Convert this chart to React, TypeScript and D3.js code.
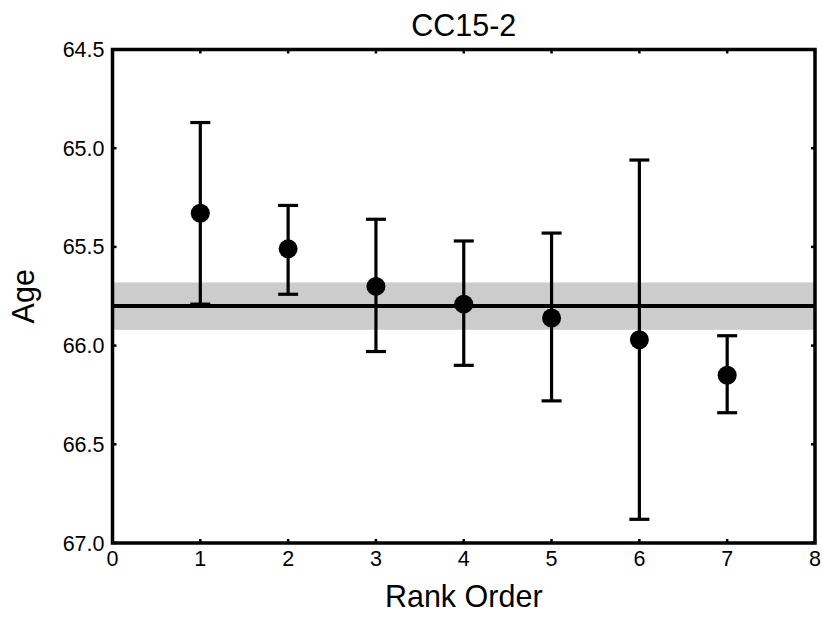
import React from 'react';
import * as d3 from 'd3';

const ranks = [1, 2, 3, 4, 5, 6, 7];
const ages = [65.33, 65.51, 65.7, 65.79, 65.86, 65.97, 66.15];
const upper = [64.87, 65.29, 65.36, 65.47, 65.43, 65.06, 65.95];
const lower = [65.79, 65.74, 66.03, 66.1, 66.28, 66.88, 66.34];
const meanAge = 65.8;
const bandLo = 65.68;
const bandHi = 65.92;
const xTicks = [0, 1, 2, 3, 4, 5, 6, 7, 8];
const yTicks = [64.5, 65.0, 65.5, 66.0, 66.5, 67.0];

const W = 822;
const H = 620;
const M = { left: 112.5, right: 7, top: 49.5, bottom: 77 };
const FONT = '"Liberation Sans", Arial, Helvetica, sans-serif';

export default function App() {
  const x = d3.scaleLinear().domain([0, 8]).range([M.left, W - M.right]);
  const y = d3.scaleLinear().domain([64.5, 67.0]).range([M.top, H - M.bottom]);
  const [x0, x1] = x.range();
  const [y0, y1] = y.range();
  const tickLen = 4;
  const capW = 10;

  return (
    <svg width={W} height={H} style={{ position: 'absolute', left: 0, top: 0, background: '#fff' }}>
      {/* uncertainty band + mean */}
      <rect x={x0} y={y(bandLo)} width={x1 - x0} height={y(bandHi) - y(bandLo)} fill="#cccccc" />
      <line x1={x0} x2={x1} y1={y(meanAge)} y2={y(meanAge)} stroke="#000" strokeWidth={4} />

      {/* error bars */}
      {ranks.map((r, i) => (
        <g key={r} stroke="#000" strokeWidth={3.2}>
          <line x1={x(r)} x2={x(r)} y1={y(upper[i])} y2={y(lower[i])} />
          <line x1={x(r) - capW} x2={x(r) + capW} y1={y(upper[i])} y2={y(upper[i])} />
          <line x1={x(r) - capW} x2={x(r) + capW} y1={y(lower[i])} y2={y(lower[i])} />
        </g>
      ))}
      {ranks.map((r, i) => (
        <circle key={r} cx={x(r)} cy={y(ages[i])} r={9.5} fill="#000" />
      ))}

      {/* ticks inward on all sides */}
      <g stroke="#000" strokeWidth={2.5}>
        {xTicks.map((t) => (
          <React.Fragment key={t}>
            <line x1={x(t)} x2={x(t)} y1={y1} y2={y1 - tickLen} />
            <line x1={x(t)} x2={x(t)} y1={y0} y2={y0 + tickLen} />
          </React.Fragment>
        ))}
        {yTicks.map((t) => (
          <React.Fragment key={t}>
            <line x1={x0} x2={x0 + tickLen} y1={y(t)} y2={y(t)} />
            <line x1={x1} x2={x1 - tickLen} y1={y(t)} y2={y(t)} />
          </React.Fragment>
        ))}
      </g>
      <rect x={x0} y={y0} width={x1 - x0} height={y1 - y0} fill="none" stroke="#000" strokeWidth={3.5} />

      {/* tick labels */}
      <g fontFamily={FONT} fontSize={21.5} fill="#000">
        {xTicks.map((t) => (
          <text key={t} x={x(t)} y={y1 + 23} textAnchor="middle">{t}</text>
        ))}
        {yTicks.map((t) => (
          <text key={t} x={x0 - 8} y={y(t) + 7.5} textAnchor="end">{d3.format('.1f')(t)}</text>
        ))}
      </g>

      <text x={(x0 + x1) / 2} y={36} textAnchor="middle" fontFamily={FONT} fontSize={30.5}>CC15-2</text>
      <text x={(x0 + x1) / 2} y={607} textAnchor="middle" fontFamily={FONT} fontSize={30.5}>Rank Order</text>
      <text transform={`translate(34,${(y0 + y1) / 2}) rotate(-90)`} textAnchor="middle" fontFamily={FONT} fontSize={30.5}>Age</text>
    </svg>
  );
}
